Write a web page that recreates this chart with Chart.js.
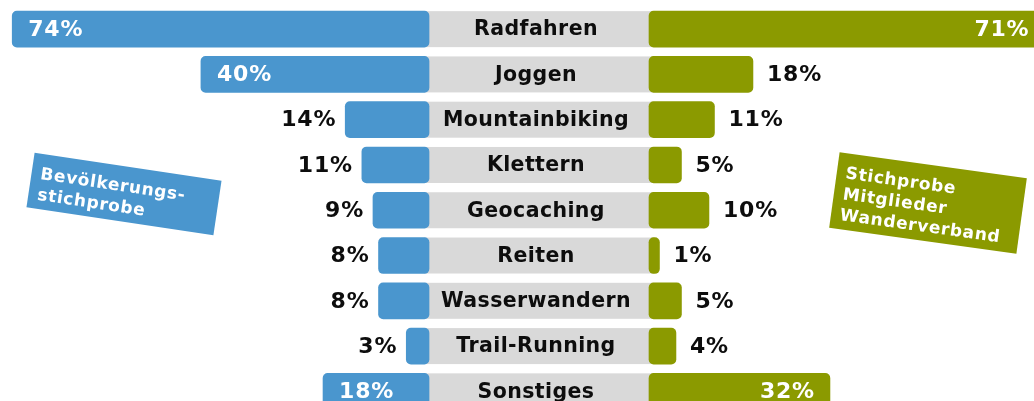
<!DOCTYPE html>
<html>
<head>
<meta charset="utf-8">
<script src="https://cdn.jsdelivr.net/npm/chart.js@4.4.1/dist/chart.umd.min.js"></script>
<style>
  html, body { margin: 0; padding: 0; background: #fff; overflow: hidden; }
  #wrap { width: 1034px; height: 416px; position: relative; }
</style>
</head>
<body>
<div id="wrap"><canvas id="the-graph"></canvas></div>
<script>
// data
var categories = ['Radfahren', 'Joggen', 'Mountainbiking', 'Klettern', 'Geocaching',
                  'Reiten', 'Wasserwandern', 'Trail-Running', 'Sonstiges'];
var bevoelkerung  = [74, 40, 14, 11, 9, 8, 8, 3, 18];
var wanderverband = [71, 18, 11, 5, 10, 1, 5, 4, 32];
var seriesNames = ['Bevölkerungsstichprobe', 'Stichprobe Mitglieder Wanderverband'];
var tagLeft  = ['Bevölkerungs-', 'stichprobe'];
var tagRight = ['Stichprobe', 'Mitglieder', 'Wanderverband'];

var BLUE = '#4a96ce', OLIVE = '#8b9a00', GREY = '#d9d9d9';
var FONT = '"DejaVu Sans", Verdana, sans-serif';

// which bars carry their label inside
function labelInside(v, i) {
  return v >= 30 || i === categories.length - 1;
}

var decor = {
  id: 'decor',
  beforeDatasetsDraw: function (chart) {
    var ctx = chart.ctx, y = chart.scales.y;
    ctx.save();
    ctx.fillStyle = GREY;
    categories.forEach(function (c, i) {
      var yc = y.getPixelForValue(i);
      ctx.fillRect(424, yc - 18, 230, 36);
    });
    ctx.restore();
  },
  afterDatasetsDraw: function (chart) {
    var ctx = chart.ctx, y = chart.scales.y;
    ctx.save();
    ctx.textBaseline = 'middle';

    // category names in the middle band
    ctx.font = 'bold 20.5px ' + FONT;
    ctx.letterSpacing = '0.4px';
    ctx.fillStyle = '#0d0d0d';
    ctx.textAlign = 'center';
    categories.forEach(function (c, i) {
      ctx.fillText(c, 536, y.getPixelForValue(i) + 1);
    });

    // value labels
    ctx.font = 'bold 22px ' + FONT;
    ctx.letterSpacing = '0.8px';
    chart.getDatasetMeta(0).data.forEach(function (bar, i) {
      var v = bevoelkerung[i];
      if (labelInside(v, i)) {
        ctx.fillStyle = '#fff'; ctx.textAlign = 'left';
        ctx.fillText(v + '%', bar.x + 16, bar.y + 1);
      } else {
        ctx.fillStyle = '#0d0d0d'; ctx.textAlign = 'right';
        ctx.fillText(v + '%', bar.x - 9, bar.y + 1);
      }
    });
    chart.getDatasetMeta(1).data.forEach(function (bar, i) {
      var v = wanderverband[i];
      if (labelInside(v, i)) {
        ctx.fillStyle = '#fff'; ctx.textAlign = 'right';
        ctx.fillText(v + '%', bar.x - 15, bar.y + 1);
      } else {
        ctx.fillStyle = '#0d0d0d'; ctx.textAlign = 'left';
        ctx.fillText(v + '%', bar.x + 14, bar.y + 1);
      }
    });
    ctx.letterSpacing = '0px';

    // tilted series tags
    drawTag(ctx, 124, 194, 189, 55, 8.5, BLUE, tagLeft);
    drawTag(ctx, 928, 203, 189, 76, 7.9, OLIVE, tagRight);
    ctx.restore();
  }
};

function drawTag(ctx, cx, cy, w, h, deg, color, lines) {
  ctx.save();
  ctx.translate(cx, cy);
  ctx.rotate(deg * Math.PI / 180);
  ctx.fillStyle = color;
  ctx.fillRect(-w / 2, -h / 2, w, h);
  ctx.fillStyle = '#fff';
  ctx.font = 'bold 17px ' + FONT;
  ctx.letterSpacing = '0.7px';
  ctx.textAlign = 'left';
  ctx.textBaseline = 'alphabetic';
  lines.forEach(function (t, i) {
    ctx.fillText(t, -w / 2 + 9, -h / 2 + 25 + i * 21);
  });
  ctx.restore();
}

var chart = new Chart(document.getElementById('the-graph'), {
  type: 'bar',
  data: {
    labels: categories,
    datasets: [{
      label: seriesNames[0],
      data: bevoelkerung,
      xAxisID: 'xL',
      base: -1.1,
      backgroundColor: BLUE,
      borderRadius: 5,
      borderSkipped: false,
      barThickness: 36,
      grouped: false
    }, {
      label: seriesNames[1],
      data: wanderverband,
      xAxisID: 'xR',
      base: -0.9,
      backgroundColor: OLIVE,
      borderRadius: 5,
      borderSkipped: false,
      barThickness: 36,
      grouped: false
    }]
  },
  options: {
    indexAxis: 'y',
    responsive: true,
    maintainAspectRatio: false,
    animation: false,
    layout: { padding: { top: 6.5, bottom: 2, left: 0, right: 0 } },
    plugins: { legend: { display: false }, tooltip: { enabled: false } },
    scales: {
      y: { display: false },
      xL: { type: 'linear', position: 'bottom', reverse: true, display: false,
            min: -110.1, max: 76.2 },
      xR: { type: 'linear', position: 'bottom', display: false,
            min: -118.9, max: 69.1 }
    }
  },
  plugins: [decor]
});
</script>
</body>
</html>
